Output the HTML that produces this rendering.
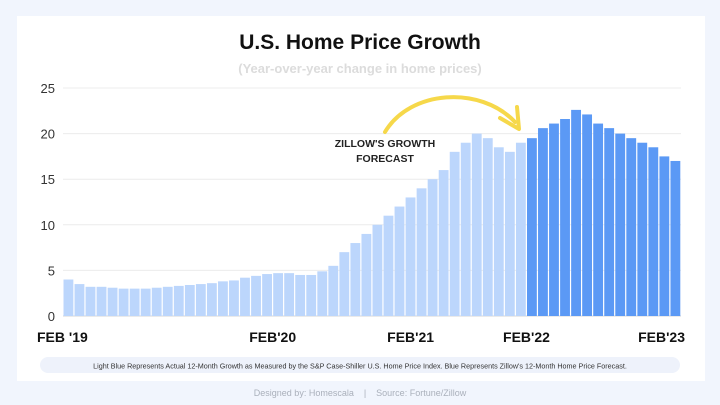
<!DOCTYPE html>
<html><head><meta charset="utf-8"><style>
body{margin:0;width:720px;height:405px;background:#f1f5fd;font-family:"Liberation Sans",sans-serif;overflow:hidden;position:relative}
#card{position:absolute;left:17px;top:16px;width:688px;height:365px;background:#fff}
</style></head><body>
<div id="card"></div>
<svg width="720" height="405" style="position:absolute;left:0;top:0">
<text x="360" y="49" text-anchor="middle" font-size="21" font-weight="bold" fill="#111">U.S. Home Price Growth</text>
<text x="360" y="73" text-anchor="middle" font-size="13" font-weight="bold" fill="#dcdcdc">(Year-over-year change in home prices)</text>
<g id="grid"></g><g id="bars"></g><g id="xl"></g>
<path d="M385,132 C410,90 480,85 515,122" fill="none" stroke="#f6d84a" stroke-width="4" stroke-linecap="round"/>
<path d="M500,118 L519,129 L517,107" fill="none" stroke="#f6d84a" stroke-width="4" stroke-linecap="round" stroke-linejoin="round"/>
<text x="385" y="147" text-anchor="middle" font-size="10.5" font-weight="bold" fill="#222">ZILLOW'S GROWTH</text>
<text x="385" y="162" text-anchor="middle" font-size="10.5" font-weight="bold" fill="#222">FORECAST</text>
<rect x="40" y="357" width="640" height="16" rx="8" fill="#eef2fb"/>
<text x="360" y="368.5" text-anchor="middle" font-size="7.2" fill="#333">Light Blue Represents Actual 12-Month Growth as Measured by the S&amp;P Case-Shiller U.S. Home Price Index. Blue Represents Zillow's 12-Month Home Price Forecast.</text>
<text x="360" y="396" text-anchor="middle" font-size="9" fill="#aab0bb">Designed by: Homescala &#160;&#160; | &#160;&#160; Source: Fortune/Zillow</text>
</svg>
<script>
const actual=[4.0,3.5,3.2,3.2,3.1,3.0,3.0,3.0,3.1,3.2,3.3,3.4,3.5,3.6,3.8,3.9,4.2,4.4,4.6,4.7,4.7,4.5,4.5,4.9,5.5,7.0,8.0,9.0,10.0,11.0,12.0,13.0,14.0,15.0,16.0,18.0,19.0,20.0,19.5,18.5,18.0,19.0];
const forecast=[19.5,20.6,21.1,21.6,22.6,22.1,21.1,20.6,20.0,19.5,19.0,18.5,17.5,17.0];
const yTicks=[0,5,10,15,20,25];
const xLabels=["FEB '19","FEB'20","FEB'21","FEB'22","FEB'23"];
const xLabelIdx=[0,19,31.5,42,56];
const NS="http://www.w3.org/2000/svg";
const x0=63,x1=681,y0=316,yTop=88,yMax=25;
const n=actual.length+forecast.length,bw=(x1-x0)/n;
const ys=v=>y0-(v/yMax)*(y0-yTop);
const xs=i=>x0+i*bw;
function mk(t,a,p){const e=document.createElementNS(NS,t);for(const k in a)e.setAttribute(k,a[k]);p.appendChild(e);return e;}
const g=document.getElementById('grid');
yTicks.forEach(t=>{
 const l=mk('line',{x1:x0,x2:x1,y1:ys(t),y2:ys(t),stroke:t===0?'#d6d6d6':'#ececec','stroke-width':1},g);
 
 
 const tx=mk('text',{x:55,y:ys(t)+5,'text-anchor':'end','font-size':13,fill:'#333'},g);tx.textContent=t;
 
 
});
const b=document.getElementById('bars');
actual.concat(forecast).forEach((v,i)=>{
 const r=mk('rect',{x:xs(i)+0.5,y:ys(v),width:bw-1.2,height:y0-ys(v),fill:i<actual.length?'#bcd6fc':'#5b99f5'},b);
 
 
});
const xl=document.getElementById('xl');
xLabels.forEach((s,k)=>{
 const i=xLabelIdx[k];
 const anchor=k===0?'start':(k===xLabels.length-1?'end':'middle');
 const t=mk('text',{x:k===0?37:(k===xLabels.length-1?x1+4:xs(i)),y:342,'text-anchor':anchor,'font-size':14,'font-weight':'bold',fill:'#111'},xl);
 t.textContent=s;
 
 
});
</script>
</body></html>
